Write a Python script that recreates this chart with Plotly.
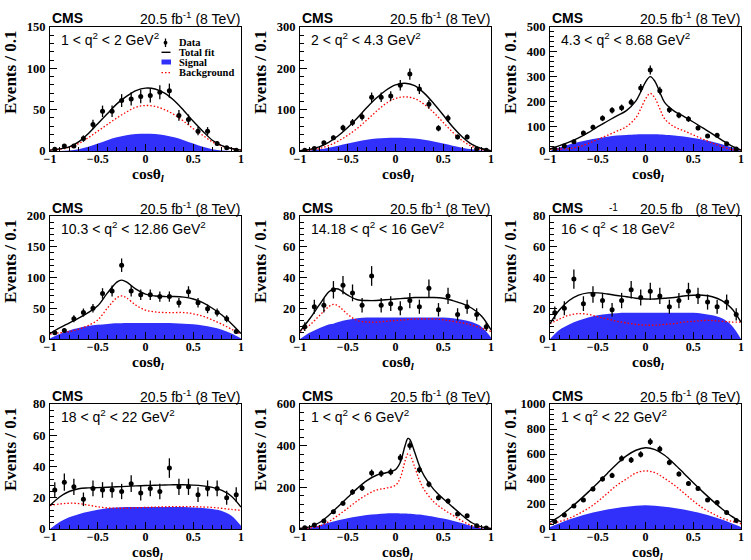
import numpy as np
import plotly.graph_objects as go

W, H = 751, 560

# ---------------- data ----------------
bin_centers = [-0.95, -0.85, -0.75, -0.65, -0.55, -0.45, -0.35, -0.25, -0.15, -0.05,
               0.05, 0.15, 0.25, 0.35, 0.45, 0.55, 0.65, 0.75, 0.85, 0.95]
grid = [-1.0, -0.9, -0.8, -0.7, -0.6, -0.5, -0.4, -0.3, -0.2, -0.1, 0.0,
        0.1, 0.2, 0.3, 0.4, 0.5, 0.6, 0.7, 0.8, 0.9, 1.0]

q2_labels = ["1 &lt; q<sup>2</sup> &lt; 2 GeV<sup>2</sup>",
             "2 &lt; q<sup>2</sup> &lt; 4.3 GeV<sup>2</sup>",
             "4.3 &lt; q<sup>2</sup> &lt; 8.68 GeV<sup>2</sup>",
             "10.3 &lt; q<sup>2</sup> &lt; 12.86 GeV<sup>2</sup>",
             "14.18 &lt; q<sup>2</sup> &lt; 16 GeV<sup>2</sup>",
             "16 &lt; q<sup>2</sup> &lt; 18 GeV<sup>2</sup>",
             "18 &lt; q<sup>2</sup> &lt; 22 GeV<sup>2</sup>",
             "1 &lt; q<sup>2</sup> &lt; 6 GeV<sup>2</sup>",
             "1 &lt; q<sup>2</sup> &lt; 22 GeV<sup>2</sup>"]
y_max = [150, 300, 500, 200, 80, 80, 80, 600, 1000]
y_dtick = [50, 100, 100, 50, 20, 20, 20, 200, 200]
y_minor = [10, 20, 20, 10, 4, 4, 4, 40, 40]

# panel 1
data1 = [2, 6, 6, 15, 32, 48, 48, 61, 63, 66, 67, 71, 73, 43, 38, 24, 24, 9, 4, 1]
x1 = grid
total1 = [1, 2.5, 5, 11, 21, 33, 45, 57, 66, 73, 76, 75, 70, 61, 49, 36, 24, 13, 6.5, 3, 1]
sig1 = [0, 0, 0.5, 2, 5, 9, 13, 16.5, 19, 20.5, 21, 20.5, 19, 16.5, 13, 9, 5, 2, 0.5, 0, 0]
bkg1 = [1, 2, 4.5, 9, 16, 24, 32, 40, 47, 53, 55, 54, 50, 44, 36, 27, 19, 11, 6, 3, 1]

# panel 2
data2 = [2, 6, 20, 32, 56, 69, 83, 130, 130, 133, 159, 186, 150, 113, 55, 79, 34, 34, 5, 2]
x2 = grid
total2 = [1, 4, 10, 21, 37, 57, 80, 105, 128, 147, 160, 164, 158, 140, 115, 87, 58, 34, 16, 6, 1]
sig2 = [0, 1, 4, 8, 13, 18, 23, 27, 30, 31.5, 32, 31.5, 30, 27, 23, 18, 13, 8, 4, 1, 0]
bkg2 = [1, 3, 6, 13, 24, 38, 55, 75, 96, 115, 127, 131, 127, 113, 93, 69, 45, 25, 11, 4, 1]

# panel 3
data3 = [8, 20, 37, 73, 96, 132, 164, 174, 197, 254, 327, 243, 166, 144, 129, 93, 60, 64, 29, 8]
x3 = [-1, -0.9, -0.8, -0.7, -0.6, -0.5, -0.4, -0.3, -0.2, -0.1, -0.05, 0, 0.05, 0.1, 0.15,
      0.2, 0.3, 0.4, 0.5, 0.6, 0.7, 0.8, 0.9, 1]
total3 = [8, 22, 36, 53, 74, 98, 120, 142, 163, 202, 238, 278, 300, 280, 237, 196, 161, 140,
          117, 93, 69, 44, 21, 4]
sig3 = [0, 14, 26, 36, 44, 51, 57, 62, 65, 67, 67.5, 68, 68, 67.5, 67, 66, 63, 58, 52, 45,
        37, 27, 15, 0]
bkg3 = [8, 8, 10, 17, 30, 47, 63, 80, 98, 135, 170, 210, 232, 212, 170, 130, 98, 82, 65, 48,
        32, 17, 6, 4]

# panel 4
data4 = [10, 14, 33, 43, 50, 74, 78, 120, 78, 72, 72, 69, 69, 59, 77, 59, 49, 43, 33, 12]
x4 = [-1, -0.9, -0.8, -0.7, -0.6, -0.5, -0.4, -0.3, -0.25, -0.2, -0.1, 0, 0.1, 0.2, 0.3,
      0.4, 0.5, 0.6, 0.7, 0.8, 0.9, 1]
total4 = [9, 18, 26, 34, 43, 54, 74.5, 92.5, 95.8, 93, 81, 73, 70, 69, 69, 68, 65, 59, 50,
          39, 25, 9]
sig4 = [1, 8, 14, 18, 21, 23, 24.5, 25.5, 25.8, 26, 26, 26, 26, 26, 25.8, 25, 24, 22, 19,
        15, 9, 1]
bkg4 = [8, 10, 12, 16, 22, 31, 50, 67, 70, 67, 55, 47, 44, 43, 43, 43, 41, 37, 31, 24, 16, 8]

# panel 5
data5 = [8, 21, 22, 32, 35, 30, 22, 41, 22, 23, 20, 25, 21, 33, 19, 28, 16, 21, 16, 8]
x5 = [-1, -0.9, -0.8, -0.7, -0.65, -0.6, -0.5, -0.4, -0.3, -0.2, -0.1, 0, 0.1, 0.2, 0.3,
      0.4, 0.5, 0.6, 0.7, 0.8, 0.9, 1]
total5 = [5, 13, 22, 30.5, 32.5, 32.5, 28.5, 25.5, 25, 25, 25.5, 26, 26.5, 27, 27, 27, 26.5,
          25, 23, 20, 15, 6]
sig5 = [0, 4, 7, 9.5, 10, 11, 12.5, 13.5, 14, 14, 14, 14, 14, 14, 14, 14, 14, 13.5, 12.5,
        11, 8, 1]
bkg5 = [5, 9, 15, 21, 22.5, 21.5, 16, 12, 11, 11, 11.5, 12, 12.5, 13, 13, 13, 12.5, 11.5,
        10.5, 9, 7, 5]

# panel 6
data6 = [17, 20, 39, 23, 29, 25, 19, 25, 32, 27, 31, 28, 21, 25, 31, 28, 24, 21, 24, 16]
x6 = grid
total6 = [10, 19, 25, 28.5, 30, 30, 29.3, 28.3, 27.5, 26.5, 26, 26, 26.5, 27, 28, 28.5,
          28.5, 27.5, 25, 20, 11]
sig6 = [0, 6, 9.5, 12, 14, 15.5, 16.3, 16.8, 17, 17, 17, 17, 17, 17, 17, 17, 16.5, 15.5,
        13.5, 9, 0]
bkg6 = [10, 13, 15.5, 16.5, 16, 14.5, 13, 11.5, 10.5, 9.5, 9, 9, 9.5, 10, 11, 11.5, 12, 12,
        11.5, 11, 11]

# panel 7
data7 = [25, 30, 27, 19, 26, 25, 25, 24, 29, 23, 26, 24, 39, 27, 27, 22, 26, 26, 20, 22]
x7 = grid
total7 = [15, 20.5, 24, 25.8, 26.3, 26.5, 26.7, 27, 27.3, 27.6, 27.8, 28, 28.2, 28.3, 28.3,
          28.1, 27.6, 26.6, 24.7, 21, 14]
sig7 = [0, 4.5, 7.5, 9.5, 11, 12.3, 13.2, 13.7, 14, 14, 14, 14, 14, 14, 14, 13.8, 13.5,
        12.8, 11.5, 8.5, 2]
bkg7 = [15, 16, 16.5, 16.3, 15.3, 14.2, 13.5, 13.3, 13.3, 13.6, 13.8, 14, 14.2, 14.3, 14.3,
        14.3, 14.1, 13.8, 13.2, 12.5, 12]

# panel 8
data8 = [6, 19, 38, 83, 123, 178, 197, 269, 266, 274, 342, 401, 285, 215, 150, 134, 72, 64, 15, 5]
x8 = [-1, -0.9, -0.8, -0.7, -0.6, -0.5, -0.4, -0.3, -0.2, -0.1, 0, 0.05, 0.1, 0.13, 0.15,
      0.2, 0.25, 0.3, 0.4, 0.5, 0.6, 0.7, 0.8, 0.9, 1]
total8 = [3, 10, 30, 65, 108, 152, 195, 232, 258, 270, 285, 320, 400, 435, 430, 370, 304,
          255, 190, 145, 105, 65, 30, 10, 3]
sig8 = [0, 5, 17, 30, 42, 52, 60, 67, 71, 74, 75, 74.8, 74, 73.5, 73, 71, 69, 66, 59, 50,
        39, 27, 14, 4, 0]
bkg8 = [3, 5, 13, 35, 66, 100, 135, 165, 187, 196, 210, 245, 326, 361, 357, 299, 235, 189,
        131, 95, 66, 38, 16, 6, 3]

# panel 9
data9 = [59, 112, 184, 232, 320, 400, 429, 565, 552, 597, 699, 640, 533, 440, 365, 325, 232,
         211, 131, 67]
x9 = grid
total9 = [55, 100, 160, 225, 295, 368, 445, 520, 585, 630, 650, 635, 590, 522, 447, 370, 297,
          227, 162, 103, 57]
sig9 = [15, 45, 75, 100, 122, 140, 155, 168, 178, 186, 190, 186, 178, 168, 155, 140, 122, 100,
        75, 45, 15]
bkg9 = [40, 60, 85, 122, 165, 220, 285, 350, 400, 448, 465, 450, 405, 352, 290, 225, 168, 125,
        87, 62, 42]

panels = [
    (data1, x1, total1, sig1, bkg1),
    (data2, x2, total2, sig2, bkg2),
    (data3, x3, total3, sig3, bkg3),
    (data4, x4, total4, sig4, bkg4),
    (data5, x5, total5, sig5, bkg5),
    (data6, x6, total6, sig6, bkg6),
    (data7, x7, total7, sig7, bkg7),
    (data8, x8, total8, sig8, bkg8),
    (data9, x9, total9, sig9, bkg9),
]

# ---------------- style / layout ----------------
SANS = "Liberation Sans, Arial, sans-serif"
SERIF = "Liberation Serif, Times New Roman, serif"
BLUE = "rgb(48,48,250)"
RED = "rgb(255,0,0)"
DOT = "1.5px,2px"

col_px = [(50, 241), (300, 491), (550, 741)]
row_px = [(27, 151), (216, 339), (404, 529)]
x_standoff = [-3, -3, -3]
title_dy = [23.5, 23.5, 23.5]
title_size = [15.5, 15.5, 15]


def px(x):
    return x / W


def py(y):
    return 1 - y / H


fig = go.Figure()
layout = dict(width=W, height=H, margin=dict(l=0, r=0, t=0, b=0),
              paper_bgcolor="white", plot_bgcolor="white", showlegend=False)
annotations = []
shapes = []

for i, (dat, xc, tot, sig, bkg) in enumerate(panels):
    r, c = divmod(i, 3)
    sfx = "" if i == 0 else str(i + 1)
    xa, ya = "x" + sfx, "y" + sfx
    (x0, x1p), (y0, y1p) = col_px[c], row_px[r]

    fig.add_trace(go.Scatter(x=xc, y=sig, mode="lines", xaxis=xa, yaxis=ya,
                             line=dict(width=0, shape="spline", color=BLUE),
                             fill="tozeroy", fillcolor=BLUE, hoverinfo="skip"))
    fig.add_trace(go.Scatter(x=xc, y=bkg, mode="lines", xaxis=xa, yaxis=ya,
                             line=dict(width=1.3, shape="spline", color=RED, dash=DOT)))
    fig.add_trace(go.Scatter(x=xc, y=tot, mode="lines", xaxis=xa, yaxis=ya,
                             line=dict(width=1.4, shape="spline", color="black")))
    err = np.sqrt(np.array(dat, dtype=float))  # Poisson uncertainty of counts
    fig.add_trace(go.Scatter(x=bin_centers, y=dat, mode="markers", xaxis=xa, yaxis=ya,
                             marker=dict(size=5, color="black"),
                             error_y=dict(type="data", array=err, thickness=1.3,
                                          width=0, color="black")))

    layout["xaxis" + sfx] = dict(
        domain=[px(x0), px(x1p)], anchor=ya, range=[-1, 1],
        showline=True, linecolor="black", linewidth=1, mirror=True,
        ticks="inside", ticklen=7, tickcolor="black", tickwidth=1,
        tickvals=[-1, -0.5, 0, 0.5, 1], ticktext=["\u22121", "\u22120.5", "0", "0.5", "1"],
        ticklabelstandoff=x_standoff[r],
        minor=dict(ticks="inside", ticklen=4, dtick=0.1, tick0=-1, tickcolor="black",
                   showgrid=False),
        showgrid=False, zeroline=False, automargin=False,
        tickfont=dict(family=SERIF, size=12, color="black", weight="bold"))
    layout["yaxis" + sfx] = dict(
        domain=[py(y1p), py(y0)], anchor=xa, range=[0, y_max[i]],
        showline=True, linecolor="black", linewidth=1, mirror=True,
        ticks="inside", ticklen=7, tickcolor="black", tickwidth=1,
        dtick=y_dtick[i], tick0=0, ticklabelstandoff=1,
        minor=dict(ticks="inside", ticklen=4, dtick=y_minor[i], tick0=0,
                   tickcolor="black", showgrid=False),
        showgrid=False, zeroline=False, automargin=False,
        tickfont=dict(family=SERIF, size=12.5, color="black", weight="bold"))

    # CMS + lumi
    annotations.append(dict(x=px(x0), y=py(y0 - 8.5), xref="paper", yref="paper",
                            text="CMS", showarrow=False, xanchor="left", yanchor="middle",
                            font=dict(family=SANS, size=14, color="black", weight="bold")))
    if i == 5:
        lumi = ("20.5 fb<sup><span style='color:rgba(0,0,0,0)'>-1</span></sup> (8 TeV)")
        annotations.append(dict(x=px(613), y=py(207), xref="paper", yref="paper",
                                text="-1", showarrow=False, xanchor="center",
                                yanchor="middle",
                                font=dict(family=SANS, size=10, color="black")))
    else:
        lumi = "20.5 fb<sup>-1</sup> (8 TeV)"
    annotations.append(dict(x=px(x1p + 1), y=py(y0 - 8.5), xref="paper", yref="paper",
                            text=lumi, showarrow=False, xanchor="right", yanchor="middle",
                            font=dict(family=SANS, size=14, color="black")))
    # q2 label
    annotations.append(dict(x=px(x0 + 9), y=py(y0 + 12), xref="paper", yref="paper",
                            text=q2_labels[i], showarrow=False, xanchor="left",
                            yanchor="middle",
                            font=dict(family=SANS, size=14, color="black")))
    # axis titles
    annotations.append(dict(x=px(x0 - 40), y=py(y0 + 45), xref="paper", yref="paper",
                            text="Events / 0.1", textangle=-90, showarrow=False,
                            xanchor="center", yanchor="middle",
                            font=dict(family=SERIF, size=17, color="black", weight="bold")))
    annotations.append(dict(x=px((x0 + x1p) / 2 + 2), y=py(y1p + title_dy[r]),
                            xref="paper", yref="paper",
                            text="cos\u03b8<sub><i>l</i></sub>",
                            showarrow=False, xanchor="center", yanchor="middle",
                            font=dict(family=SERIF, size=title_size[r], color="black",
                                      weight="bold")))

# ---------------- legend (panel 1) ----------------
leg_font = dict(family=SERIF, size=10.5, color="black", weight="bold")
leg_items = [("Data", 42.7), ("Total fit", 52.3), ("Signal", 62), ("Background", 72.7)]
for txt, yy in leg_items:
    annotations.append(dict(x=px(176.5), y=py(yy), xref="paper", yref="paper", text=txt,
                            showarrow=False, xanchor="left", yanchor="middle", font=leg_font))
shapes.append(dict(type="line", xref="paper", yref="paper", x0=px(165.5), x1=px(165.5),
                   y0=py(38.5), y1=py(47), line=dict(color="black", width=1.3)))
shapes.append(dict(type="circle", xref="paper", yref="paper", x0=px(163.6), x1=px(167.4),
                   y0=py(40.8), y1=py(44.6), fillcolor="black", line=dict(width=0)))
shapes.append(dict(type="line", xref="paper", yref="paper", x0=px(161.5), x1=px(170.5),
                   y0=py(52.3), y1=py(52.3), line=dict(color="black", width=1.4)))
shapes.append(dict(type="rect", xref="paper", yref="paper", x0=px(161.5), x1=px(171),
                   y0=py(64.5), y1=py(59.5), fillcolor=BLUE, line=dict(width=0)))
shapes.append(dict(type="line", xref="paper", yref="paper", x0=px(161.5), x1=px(171),
                   y0=py(72.7), y1=py(72.7), line=dict(color=RED, width=1.3, dash=DOT)))

layout["annotations"] = annotations
layout["shapes"] = shapes
fig.update_layout(**layout)
fig.write_html("out.html")
